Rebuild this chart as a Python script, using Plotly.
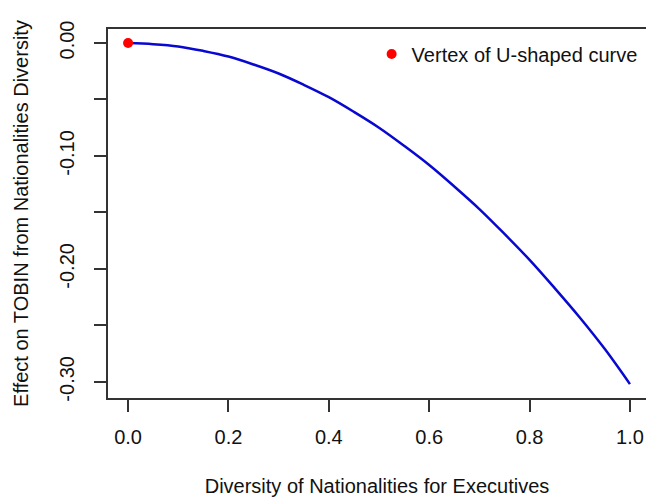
import plotly.graph_objects as go

# Data
diversity = [0.00, 0.05, 0.10, 0.15, 0.20, 0.25, 0.30, 0.35, 0.40, 0.45, 0.50,
             0.55, 0.60, 0.65, 0.70, 0.75, 0.80, 0.85, 0.90, 0.95, 1.00]
effect = [0.000, -0.001, -0.003, -0.007, -0.012, -0.019, -0.027, -0.037, -0.048,
          -0.061, -0.075, -0.091, -0.108, -0.127, -0.147, -0.169, -0.192, -0.217,
          -0.243, -0.271, -0.302]
vertex_x = [0.0]
vertex_y = [0.0]

x_ticks = [0.0, 0.2, 0.4, 0.6, 0.8, 1.0]
x_ticklabels = ["0.0", "0.2", "0.4", "0.6", "0.8", "1.0"]
y_ticks = [0.00, -0.05, -0.10, -0.15, -0.20, -0.25, -0.30]
y_ticklabels = ["0.00", "", "-0.10", "", "-0.20", "", "-0.30"]

FONT = "Liberation Sans, Arial, sans-serif"
AXCOL = "#333333"
FS = 20

fig = go.Figure()
fig.add_trace(go.Scatter(x=diversity, y=effect, mode="lines",
                         line=dict(color="#0808d0", width=2.5, shape="spline"),
                         showlegend=False, hoverinfo="skip"))
fig.add_trace(go.Scatter(x=vertex_x, y=vertex_y, mode="markers",
                         marker=dict(color="#ff0000", size=10),
                         name="Vertex of U-shaped curve", showlegend=True))

fig.update_layout(
    width=646, height=498,
    margin=dict(l=108, r=0, t=29, b=100),
    plot_bgcolor="white", paper_bgcolor="white",
    font=dict(family=FONT, size=FS, color="#111111"),
    legend=dict(x=0.49, y=0.985, xanchor="left", yanchor="top",
                bgcolor="rgba(0,0,0,0)", font=dict(size=FS),
                itemwidth=30, tracegroupgap=0),
    xaxis=dict(range=[-0.04, 1.032], tickvals=x_ticks, ticktext=x_ticklabels,
               ticks="outside", ticklen=12, tickwidth=1.5, tickcolor=AXCOL,
               showline=True, linecolor=AXCOL, linewidth=1.5, mirror=True,
               showgrid=False, zeroline=False, ticklabelstandoff=8,
               tickfont=dict(size=FS),
               title=dict(text="Diversity of Nationalities for Executives",
                          font=dict(size=FS), standoff=32)),
    yaxis=dict(range=[-0.3143, 0.0124], tickvals=y_ticks, ticktext=y_ticklabels,
               ticks="outside", ticklen=12, tickwidth=1.5, tickcolor=AXCOL,
               showline=True, linecolor=AXCOL, linewidth=1.5, mirror=False,
               showgrid=False, zeroline=False, tickangle=-90,
               ticklabelstandoff=12,
               tickfont=dict(size=FS),
               title=dict(text="Effect on TOBIN from Nationalities Diversity",
                          font=dict(size=FS), standoff=22)),
)

fig.write_html("out.html", config={"displayModeBar": False},
               post_script="document.body.style.margin='0';document.body.style.overflow='hidden';")
